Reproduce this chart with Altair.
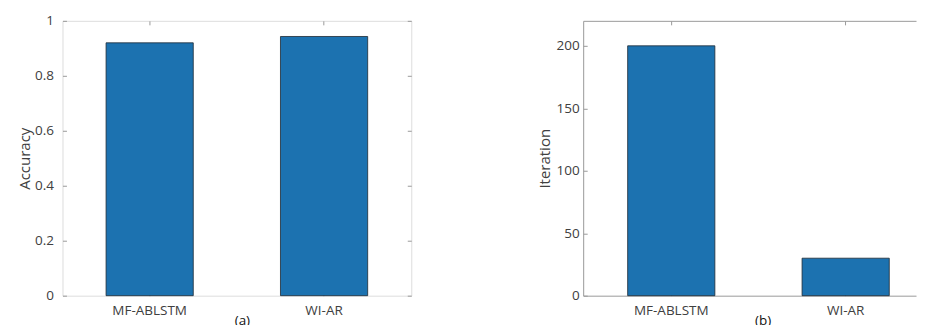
import altair as alt
import pandas as pd

methods = ["MF-ABLSTM", "WI-AR"]
accuracy = [0.92, 0.943]
iterations = [200, 30]
acc_ticks = [0, 0.2, 0.4, 0.6, 0.8, 1]
iter_ticks = [0, 50, 100, 150, 200]

FONT = "Open Sans"
BAR = "#1C72B0"
AXC = "#9a9a9a"
TXT = "#404040"
H = 275


def panel(values, field, title, caption, ydomain, yticks, fmt, lab_pad, title_x,
          width, pad_outer, align, full_box):
    df = pd.DataFrame({"method": methods, field: values})
    xscale = alt.Scale(domain=methods, paddingInner=0.5, paddingOuter=pad_outer,
                       align=align)
    yscale = alt.Scale(domain=ydomain, nice=False, zero=True)
    base = alt.Chart(df)
    bars = base.mark_bar(color=BAR, stroke="#1e2a33", strokeWidth=0.8).encode(
        x=alt.X("method:N", sort=methods, scale=xscale,
                axis=alt.Axis(orient="bottom", offset=-4, domain=False, ticks=True,
                              grid=False, tickSize=4, tickColor=AXC, bandPosition=0.5,
                              labelAngle=0, labelPadding=8, labelFont=FONT,
                              labelFontSize=13.5, labelColor=TXT,
                              title=caption, titleX=179.5, titleY=22,
                              titleAlign="center", titleBaseline="top",
                              titleColor="#111111", titleFont=FONT,
                              titleFontSize=13.5, titleFontWeight="normal")),
        y=alt.Y(f"{field}:Q", scale=yscale,
                axis=alt.Axis(orient="left", offset=-4, domain=False, ticks=True,
                              grid=False, tickSize=4, tickColor=AXC, values=yticks,
                              format=fmt, labelPadding=lab_pad, labelFont=FONT,
                              labelFontSize=13.5, labelColor=TXT, title=title,
                              titleFont=FONT, titleFontSize=15,
                              titleFontWeight="normal", titleColor=TXT,
                              titleX=title_x, titleBaseline="alphabetic",
                              titleAlign="center")),
    )
    ghost = base.mark_bar(opacity=0).encode(
        x=alt.X("method:N", sort=methods, scale=xscale,
                axis=alt.Axis(orient="top", offset=-4, domain=False, labels=False,
                              grid=False, tickSize=4, tickColor=AXC,
                              bandPosition=0.5, title=None)),
        y=alt.Y(f"{field}:Q", scale=yscale,
                axis=alt.Axis(orient="right", offset=-4, domain=False, labels=False,
                              grid=False, ticks=full_box, tickSize=4,
                              tickColor=AXC, values=yticks, title=None)),
    )
    layers = [bars, ghost]
    if not full_box:
        # open frame: left, top and bottom edges only (right edge is off-page)
        frame_top = base.mark_bar(opacity=0).encode(
            x=alt.X("method:N", sort=methods, scale=xscale,
                    axis=alt.Axis(orient="top", offset=0, domain=True,
                                  domainColor=AXC, domainWidth=1, ticks=False,
                                  labels=False, grid=False, title=None)),
            y=alt.Y(f"{field}:Q", scale=yscale,
                    axis=alt.Axis(orient="left", offset=0, domain=True,
                                  domainColor=AXC, domainWidth=1, ticks=False,
                                  labels=False, grid=False, title=None)),
        )
        frame_bottom = base.mark_bar(opacity=0).encode(
            x=alt.X("method:N", sort=methods, scale=xscale,
                    axis=alt.Axis(orient="bottom", offset=0, domain=True,
                                  domainColor=AXC, domainWidth=1, ticks=False,
                                  labels=False, grid=False, title=None)),
            y=alt.Y(f"{field}:Q", scale=yscale, axis=None),
        )
        layers += [frame_top, frame_bottom]
    ch = (alt.layer(*layers)
          .resolve_axis(x="independent", y="independent")
          .properties(width=width, height=H))
    if not full_box:
        ch = ch.properties(view=alt.ViewBackground(stroke="transparent"))
    return ch


left = panel(accuracy, "accuracy", "Accuracy", "(a)", [0, 1], acc_ticks, "~g",
             9, -36.5, 349, 0.25, 0.5, True)
right = panel(iterations, "iteration", "Iteration", "(b)", [0, 220], iter_ticks, "d",
              4, -37.5, 333, 0.20415, 0.6246, False)

chart = (alt.hconcat(left, right, spacing=172, bounds="flush")
         .properties(padding={"left": 9.5, "top": 4.75, "right": 0, "bottom": 0})
         .configure_view(stroke=AXC, strokeWidth=1)
         .configure_axis(grid=False)
         .configure(background="white"))

chart.save("out.html", embed_options={"renderer": "svg", "actions": False})
